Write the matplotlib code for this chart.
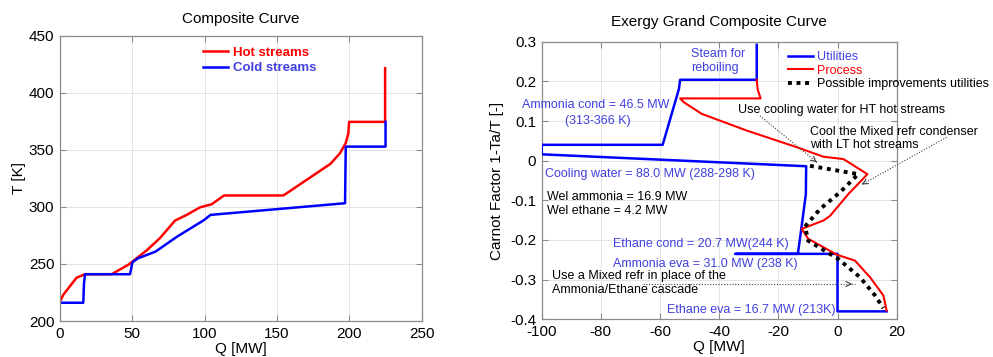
import numpy as np
import matplotlib
matplotlib.use("Agg")
import matplotlib.pyplot as plt

plt.rcParams["font.family"] = ["Liberation Sans", "DejaVu Sans"]
plt.rcParams["axes.unicode_minus"] = False

# ---- composite curve (left) ----
hot_q = [0, 2.3, 11.5, 17.3, 35.7, 47.5, 60, 69, 79.5, 87.6, 96.8, 104.8, 113.4,
         154.4, 165.9, 187, 193.5, 197.5, 199.3, 199.8, 224.7, 224.7]
hot_t = [217, 223, 238, 241, 241, 249.5, 262, 272.5, 288, 293, 299.6, 302.3, 310,
         310, 319.8, 337.8, 347, 356, 364.5, 374.5, 374.5, 421.5]
cold_q = [0, 16.1, 16.6, 17.3, 48.4, 50.1, 54, 66, 81, 99, 104.1, 197, 197.5, 225, 225]
cold_t = [216, 216, 233, 241, 241, 251.5, 255, 260.8, 274, 288, 293, 303.2, 352.8, 352.8, 374.5]

# ---- exergy grand composite curve (right) ----
util_q = [-27.3, -27.3, -53.2, -53.6, -59.1, -100, -100, -10.6, -10.7, -12.1, -13.4,
          -34.5, 0, 0, 16.6]
util_c = [0.292, 0.204, 0.204, 0.181, 0.040, 0.040, 0.016, -0.014, -0.084, -0.164,
          -0.235, -0.235, -0.235, -0.380, -0.380]
proc_q = [-27.3, -27.0, -26.0, -53.2, -51.9, -45.9, -30.7, -13.8, -4.8, 2.0, 6.5, 10.1,
          8.2, 3.7, -2.5, -3.6, -4.8, -12.1, -9.9, -3.6, -0.3, 5.9, 11.0, 15.5, 16.6]
proc_c = [0.204, 0.18, 0.157, 0.157, 0.147, 0.118, 0.076, 0.034, 0.010, 0.004, -0.017,
          -0.034, -0.049, -0.084, -0.139, -0.145, -0.151, -0.172, -0.197, -0.223,
          -0.237, -0.252, -0.294, -0.340, -0.378]
impr_q = [-9.3, 7.0, 0.8, -5.9, -11.0, -9.9, 0.3, 7.6, 12.7, 15.5]
impr_c = [-0.013, -0.034, -0.080, -0.122, -0.166, -0.202, -0.248, -0.294, -0.340, -0.372]

RED = "#ff0000"
BLUE = "#0000ff"
TBLUE = "#4040e0"
SPINE = "#8c8c8c"
GRID = "#e3e3e3"


def style(ax):
    for s in ax.spines.values():
        s.set_color(SPINE)
        s.set_linewidth(0.9)
    ax.tick_params(direction="in", length=4, width=0.8, color=SPINE, labelsize=11,
                   top=True, right=True, pad=4)
    ax.grid(True, color=GRID, lw=0.7)
    ax.set_axisbelow(True)


fig = plt.figure(figsize=(9.93, 3.57), dpi=100)

# left
ax1 = fig.add_axes([0.0604, 0.1008, 0.3643, 0.7992])
ax1.plot(hot_q, hot_t, color=RED, lw=1.8, label="Hot streams")
ax1.plot(cold_q, cold_t, color=BLUE, lw=1.8, label="Cold streams")
ax1.set_xlim(0, 250)
ax1.set_ylim(200, 450)
ax1.set_xticks(np.arange(0, 251, 50))
ax1.set_yticks(np.arange(200, 451, 50))
style(ax1)
ax1.set_title("Composite Curve", fontsize=11, pad=9)
ax1.set_xlabel("Q [MW]", fontsize=11, labelpad=1)
ax1.set_ylabel("T [K]", fontsize=11, labelpad=2)
leg1 = ax1.legend(loc="upper left", bbox_to_anchor=(0.394, 0.962), frameon=False,
                  borderaxespad=0, borderpad=0, handlelength=1.9, handletextpad=0.4,
                  labelspacing=0.25, prop={"size": 9.5, "weight": "bold"})
for t, c in zip(leg1.get_texts(), [RED, TBLUE]):
    t.set_color(c)

# right
ax2 = fig.add_axes([0.5455, 0.1056, 0.3575, 0.7776])
ax2.plot(util_q, util_c, color=BLUE, lw=1.8, label="Utilities", zorder=3)
ax2.plot(proc_q, proc_c, color=RED, lw=1.5, label="Process", zorder=3)
ax2.plot(impr_q, impr_c, color="black", lw=2.8, ls=(0, (1.0, 1.2)),
         label="Possible improvements utilities", zorder=4)
ax2.set_xlim(-100, 20)
ax2.set_ylim(-0.4, 0.3)
ax2.set_xticks(np.arange(-100, 21, 20))
yt = np.round(np.arange(-0.4, 0.31, 0.1), 1)
ax2.set_yticks(yt)
ax2.set_yticklabels(["0" if v == 0 else f"{v:g}" for v in yt])
style(ax2)
ax2.set_title("Exergy Grand Composite Curve", fontsize=11, pad=11)
ax2.set_xlabel("Q [MW]", fontsize=11, labelpad=1)
ax2.set_ylabel("Carnot Factor 1-Ta/T [-]", fontsize=11, labelpad=4)
leg2 = ax2.legend(loc="upper left", bbox_to_anchor=(0.694, 0.965), frameon=False,
                  borderaxespad=0, borderpad=0, handlelength=2.0, handletextpad=0.3,
                  labelspacing=0.1, prop={"size": 9})
for t, c in zip(leg2.get_texts(), [TBLUE, RED, "black"]):
    t.set_color(c)

fs = 9
ax2.text(-49.5, 0.251, "Steam for\nreboiling", color=TBLUE, fontsize=fs, va="center")
ax2.text(-81.7, 0.141, "Ammonia cond = 46.5 MW", color=TBLUE, fontsize=fs,
         ha="center", va="center")
ax2.text(-81.0, 0.101, "(313-366 K)", color=TBLUE, fontsize=fs, ha="center", va="center")
ax2.text(-98.9, -0.034, "Cooling water = 88.0 MW (288-298 K)", color=TBLUE, fontsize=fs,
         va="center")
ax2.text(-98.3, -0.110, "Wel ammonia = 16.9 MW\nWel ethane = 4.2 MW", color="black",
         fontsize=fs, va="center", linespacing=1.25)
ax2.text(-76, -0.210, "Ethane cond = 20.7 MW(244 K)", color=TBLUE, fontsize=fs, va="center")
ax2.text(-75.8, -0.261, "Ammonia eva = 31.0 MW (238 K)", color=TBLUE, fontsize=fs,
         va="center")
ax2.text(-57.7, -0.376, "Ethane eva = 16.7 MW (213K)", color=TBLUE, fontsize=fs,
         va="center")
ax2.text(-33.5, 0.128, "Use cooling water for HT hot streams", color="black", fontsize=fs,
         va="center")
ax2.text(-9.3, 0.056, "Cool the Mixed refr condenser\nwith LT hot streams", color="black",
         fontsize=fs, va="center", linespacing=1.2)
ax2.text(-96.6, -0.309, "Use a Mixed refr in place of the\nAmmonia/Ethane cascade",
         color="black", fontsize=fs, va="center", linespacing=1.2)

# dotted arrows
arrows = [((-26.2, 0.113), (-7.0, -0.004)),
          ((36.9, 0.059), (8.2, -0.060)),
          ((-65.6, -0.311), (5.9, -0.311))]
for (x0, y0), (x1, y1) in arrows:
    ax2.plot([x0, x1], [y0, y1], color="0.25", lw=0.8, ls=(0, (1, 1.5)), clip_on=False,
             zorder=5)
    dx, dy = x1 - x0, y1 - y0
    ax2.annotate("", xy=(x1, y1), xytext=(x1 - dx * 0.04, y1 - dy * 0.04),
                 arrowprops=dict(arrowstyle="->", color="0.25", lw=0.8,
                                 mutation_scale=9), annotation_clip=False, zorder=5)

fig.savefig("out.png", dpi=100)
